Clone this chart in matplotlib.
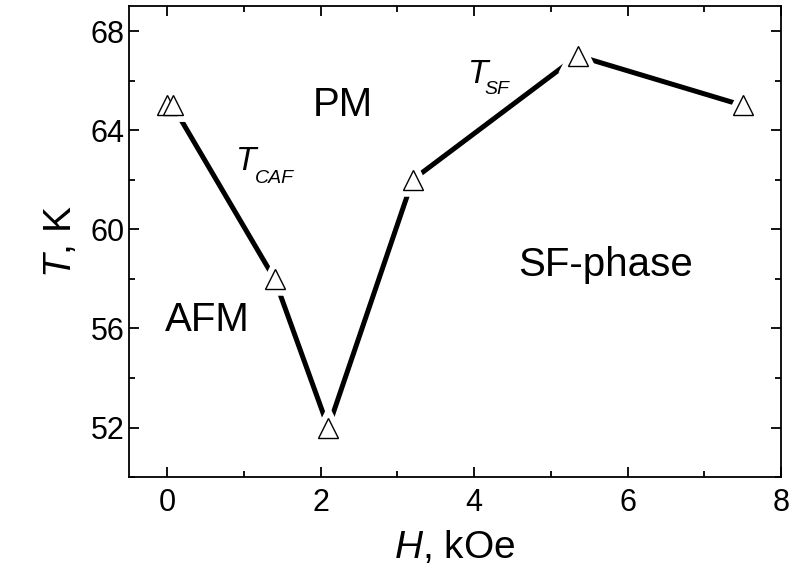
import matplotlib
matplotlib.use('Agg')
import matplotlib.pyplot as plt
from matplotlib.ticker import MultipleLocator

# data
H = [0.0, 0.07, 1.4, 2.1, 3.2, 5.35, 7.5]
T = [65, 65, 58, 52, 62, 67, 65]

plt.rcParams['font.family'] = 'Liberation Sans'
plt.rcParams['mathtext.fontset'] = 'custom'
plt.rcParams['mathtext.rm'] = 'Liberation Sans'
plt.rcParams['mathtext.it'] = 'Liberation Sans:italic'

fig = plt.figure(figsize=(7.9, 5.66), dpi=100)
ax = fig.add_axes([0.163, 0.157, 0.8256, 0.832])

# line, then white halo so the line stops short of the markers
ax.plot(H, T, color='black', lw=3.6, solid_capstyle='butt', zorder=2)
ax.plot(H, T, ls='none', marker='^', ms=14, mfc='white', mec='white', mew=9, zorder=3)
ax.plot(H, T, ls='none', marker='^', ms=14, mfc='white', mec='black', mew=1.0, zorder=4)

ax.set_xlim(-0.5, 8)
ax.set_ylim(50, 69)
ax.xaxis.set_major_locator(MultipleLocator(2))
ax.xaxis.set_minor_locator(MultipleLocator(1))
ax.yaxis.set_major_locator(MultipleLocator(4))
ax.yaxis.set_minor_locator(MultipleLocator(2))
ax.tick_params(which='both', direction='in', top=True, right=True, width=1.3)
ax.tick_params(which='major', length=7, labelsize=22)
ax.tick_params(axis='x', which='major', pad=8)
ax.tick_params(axis='y', which='major', pad=3)
ax.tick_params(which='minor', length=4)
for s in ax.spines.values():
    s.set_linewidth(1.3)

ax.set_xlabel(r'$H$, kOe', fontsize=28, labelpad=8)
ax.set_ylabel(r'$T$, K', fontsize=28, labelpad=8)

ax.text(1.9, 64.57, 'PM', fontsize=29)
ax.text(-0.03, 55.88, 'AFM', fontsize=29)
ax.text(4.58, 58.1, 'SF-phase', fontsize=29)

# T_CAF and T_SF labels, subscript set as a smaller italic text
ax.text(0.90, 62.38, 'T', fontsize=24, style='italic')
ax.text(1.14, 61.86, 'CAF', fontsize=14, style='italic')
ax.text(3.92, 65.9, 'T', fontsize=24, style='italic')
ax.text(4.14, 65.45, 'SF', fontsize=14, style='italic')

plt.savefig('out.png', dpi=100)
